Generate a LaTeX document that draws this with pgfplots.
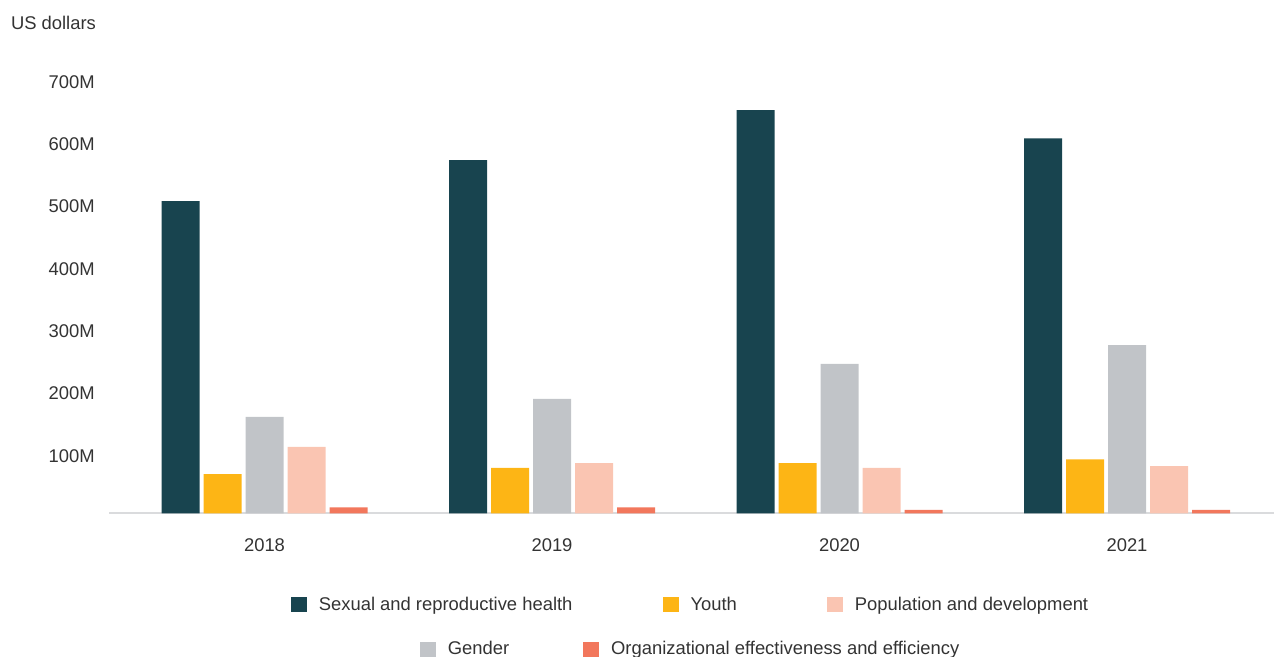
\documentclass[border=0pt]{standalone}
\usepackage{pgfplots}
\pgfplotsset{compat=1.18}
\usepackage{fontspec}
\setmainfont{Liberation Sans}

\definecolor{srh}{HTML}{18444F}
\definecolor{youth}{HTML}{FDB515}
\definecolor{gender}{HTML}{C1C4C8}
\definecolor{popdev}{HTML}{FAC5B2}
\definecolor{orgeff}{HTML}{F2775C}
\definecolor{txt}{HTML}{333333}
\definecolor{baseln}{HTML}{DADBDD}

\newcommand{\lbl}{\fontsize{9.2}{11}\selectfont}

\begin{document}
\begin{tikzpicture}
\path[use as bounding box] (0,0) rectangle (637pt,328.5pt);
\node[anchor=base west, font=\lbl, text=txt, inner sep=0pt] at (5.3pt,313.75pt) {US dollars};

% spending by area, in millions of US dollars
\begin{axis}[
    at={(54.5pt,71.75pt)}, anchor=south west,
    scale only axis, width=582.5pt, height=218.15pt,
    xmin=-0.5409, xmax=3.5113, ymin=0, ymax=700,
    axis x line*=bottom, axis y line*=left,
    x axis line style={draw=baseln, line width=1pt},
    y axis line style={draw=none},
    major tick length=0pt,
    xtick={0,1,2,3}, xticklabels={2018,2019,2020,2021},
    ytick={100,200,300,400,500,600,700},
    yticklabels={100M,200M,300M,400M,500M,600M,700M},
    tick label style={font=\lbl, text=txt},
    yticklabel style={anchor=base east, inner sep=0pt, xshift=-7pt, yshift=-5.5pt},
    xticklabel style={anchor=base, inner sep=0pt, yshift=-19pt},
    legend image code/.code={\fill[#1] (0pt,-3.75pt) rectangle (8pt,3.75pt);},
    legend style={at={(0.5,-0.2097)}, anchor=center, draw=none, fill=none,
        font=\lbl, text=txt, legend columns=-1,
        /tikz/every odd column/.append style={column sep=4pt},
        /tikz/every even column/.append style={column sep=43pt}},
]
\addplot[ybar, bar width=19pt, bar shift=-42pt, fill=srh, draw=none, forget plot]
    coordinates {(0,501) (1,567) (2,647) (3,602)};
\addplot[ybar, bar width=19pt, bar shift=-21pt, fill=youth, draw=none, forget plot]
    coordinates {(0,63) (1,73) (2,81) (3,87)};
\addplot[ybar, bar width=19pt, bar shift=0pt, fill=gender, draw=none, forget plot]
    coordinates {(0,155) (1,184) (2,240) (3,270)};
\addplot[ybar, bar width=19pt, bar shift=21pt, fill=popdev, draw=none, forget plot]
    coordinates {(0,107) (1,81) (2,73) (3,76)};
\addplot[ybar, bar width=19pt, bar shift=42pt, fill=orgeff, draw=none, forget plot]
    coordinates {(0,10) (1,10) (2,6) (3,6)};
\addlegendimage{fill=srh, draw=none}
\addlegendimage{fill=youth, draw=none}
\addlegendimage{fill=popdev, draw=none}
\legend{Sexual and reproductive health, Youth, Population and development}
\end{axis}

% second row of the legend
\begin{axis}[
    at={(54.5pt,71.75pt)}, anchor=south west,
    scale only axis, width=582.5pt, height=218.15pt,
    xmin=-0.5409, xmax=3.5113, ymin=0, ymax=700,
    hide axis,
    legend image code/.code={\fill[#1] (0pt,-3.75pt) rectangle (8pt,3.75pt);},
    legend style={at={(0.5,-0.3106)}, anchor=center, draw=none, fill=none,
        font=\lbl, text=txt, legend columns=-1,
        /tikz/every odd column/.append style={column sep=4pt},
        /tikz/every even column/.append style={column sep=35pt}},
]
\addlegendimage{fill=gender, draw=none}
\addlegendimage{fill=orgeff, draw=none}
\legend{Gender, Organizational effectiveness and efficiency}
\end{axis}
\end{tikzpicture}
\end{document}
